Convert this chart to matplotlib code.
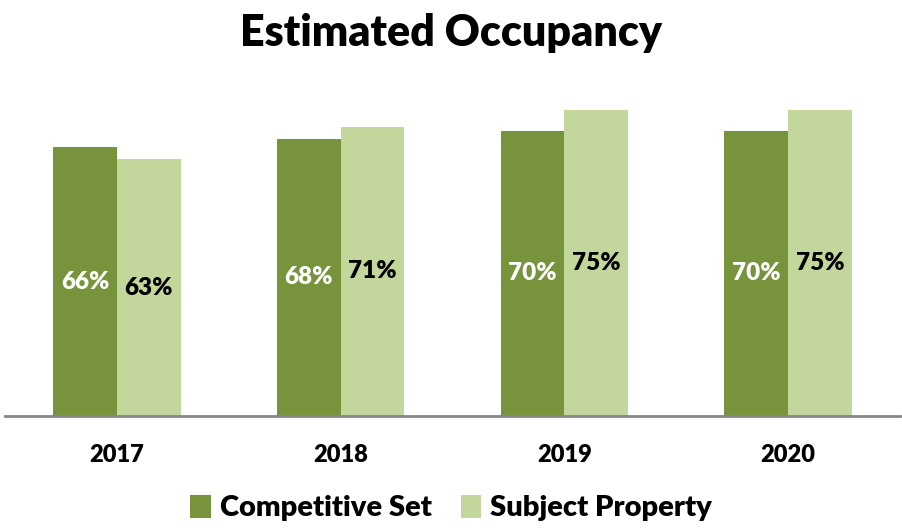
import matplotlib.pyplot as plt
import numpy as np

years = ["2017", "2018", "2019", "2020"]
competitive = [66, 68, 70, 70]
subject = [63, 71, 75, 75]

dark = "#77933C"
light = "#C3D69B"

plt.rcParams['font.family'] = ['Lato', 'DejaVu Sans']
plt.rcParams['font.weight'] = 'heavy'

fig = plt.figure(figsize=(9.02, 5.29), dpi=100)
ax = fig.add_axes([5 / 902, 113 / 529, 895 / 902, 326 / 529])

x = np.arange(len(years))
w = 0.285
b1 = ax.bar(x - w / 2, competitive, w, color=dark, label="Competitive Set")
b2 = ax.bar(x + w / 2, subject, w, color=light, label="Subject Property")

for rect, v in zip(b1, competitive):
    ax.text(rect.get_x() + rect.get_width() / 2, v / 2, f"{v}%", ha='center', va='center',
            color='white', fontsize=17.5, fontweight='heavy')
for rect, v in zip(b2, subject):
    ax.text(rect.get_x() + rect.get_width() / 2, v / 2, f"{v}%", ha='center', va='center',
            color='black', fontsize=17.5, fontweight='heavy')

ax.set_xlim(-0.5, len(years) - 0.5)
ax.set_ylim(0, 80)
ax.set_xticks(x)
ax.set_xticklabels(years, fontsize=17, fontweight='heavy')
ax.tick_params(axis='x', length=0, pad=20)
ax.set_yticks([])
for s in ['top', 'left', 'right']:
    ax.spines[s].set_visible(False)
ax.spines['bottom'].set_color('#868686')
ax.spines['bottom'].set_linewidth(2)

fig.text(0.5, 1 - 33 / 529, "Estimated Occupancy", ha='center', va='center',
         fontsize=31, fontweight='heavy')

fig.legend(handles=[b1, b2], loc='center', bbox_to_anchor=(0.5, 1 - 508 / 529), ncol=2,
           frameon=False, prop={'size': 21, 'weight': 'heavy'}, handlelength=0.7, handleheight=0.85,
           handletextpad=0.3, columnspacing=1.0)

fig.savefig("out.png", dpi=100)
